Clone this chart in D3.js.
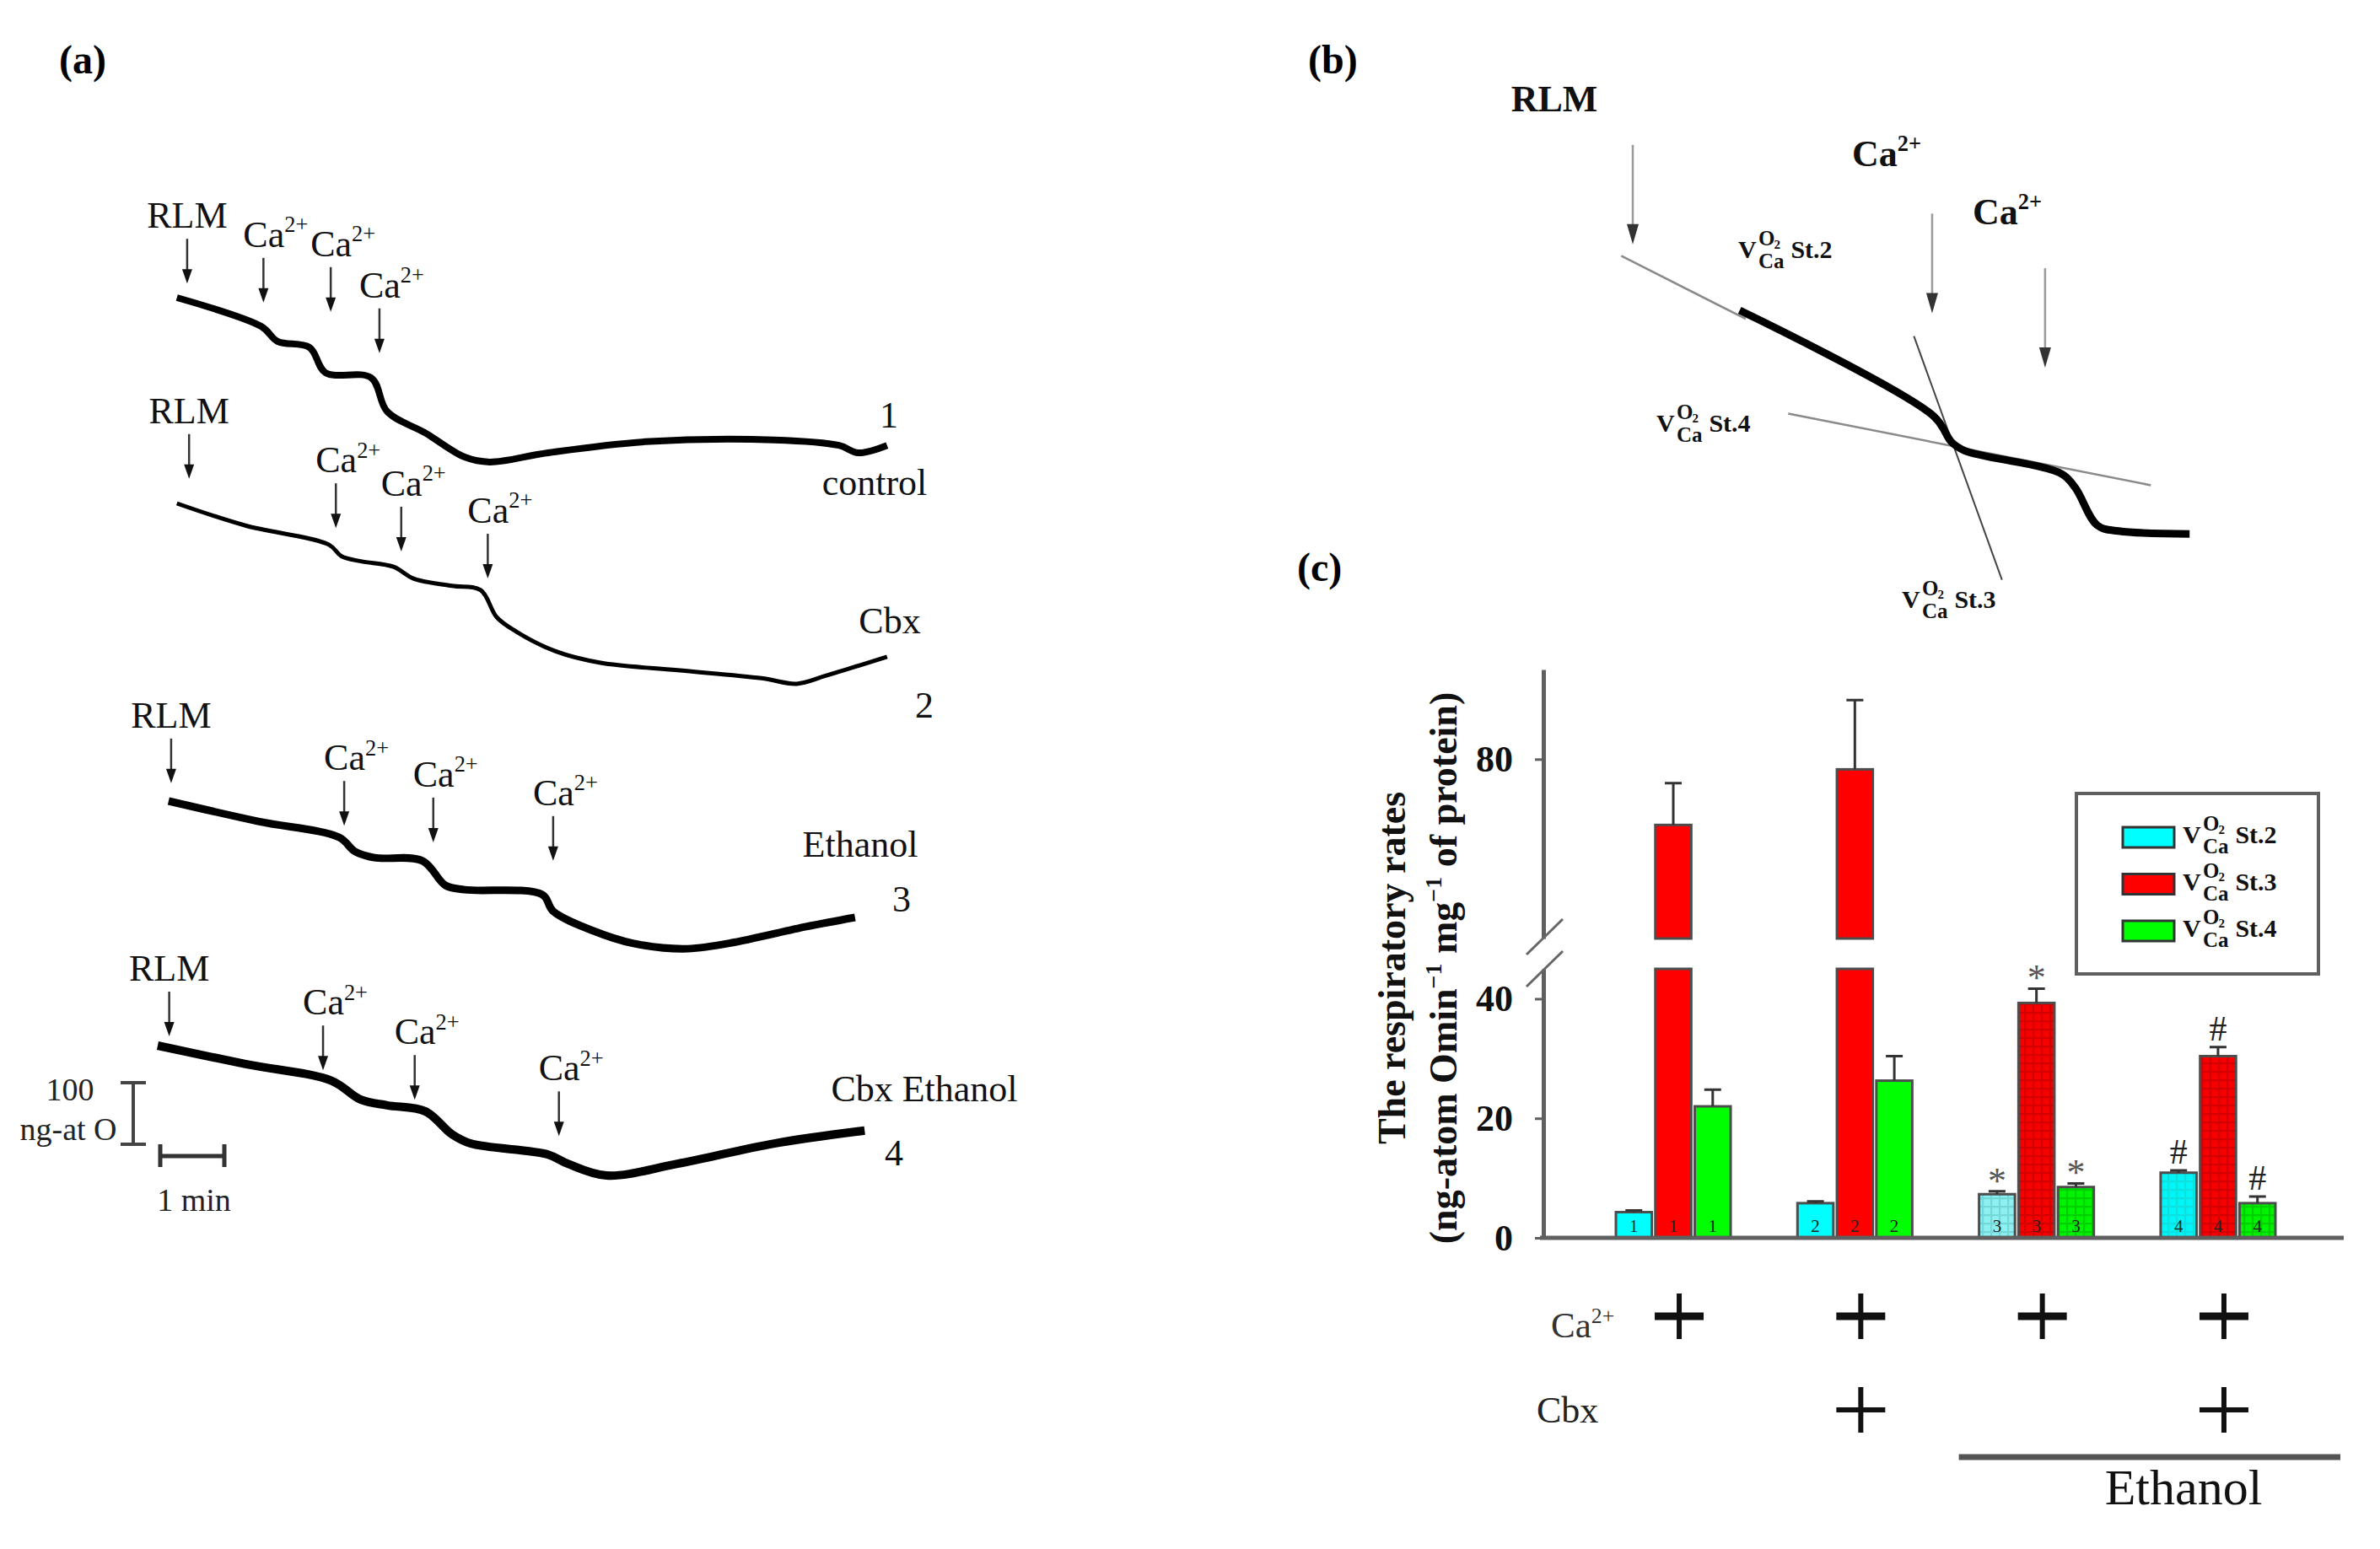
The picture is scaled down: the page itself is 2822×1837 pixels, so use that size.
<!DOCTYPE html>
<html>
<head>
<meta charset="utf-8">
<script src="https://cdn.jsdelivr.net/npm/d3@7.9.0/dist/d3.min.js"></script>
<style>
  body { margin: 0; background: #fff; }
  svg { display: block; }
  text { font-family: "Liberation Serif", "Times New Roman", serif; }
</style>
</head>
<body>
<div id="chart"></div>
<script>
// ---------- panel (a): oxygen traces ----------
// [time (min), O2 change (ng-at O) from the start of the trace]
const trace1 = [[0.26, 0], [1.58, -47], [1.83, -71], [2.33, -81], [2.58, -122], [3.29, -130], [3.54, -185],
  [4.14, -220], [4.75, -259], [5.14, -267], [6.05, -252], [7.57, -234], [9.58, -231], [10.59, -240],
  [10.89, -252], [11.34, -240]];
const trace2 = [[0.26, 0], [1.33, -36], [2.63, -67], [2.83, -86], [3.13, -94], [3.64, -103], [3.95, -122],
  [4.55, -134], [5.0, -141], [5.25, -185], [5.55, -208], [6.16, -240], [6.87, -259], [8.07, -271],
  [9.38, -284], [9.93, -293], [10.38, -280], [11.34, -249]];
const trace3 = [[0.13, 0], [1.53, -33], [2.79, -59], [3.04, -82], [3.34, -92], [4.09, -97], [4.45, -137],
  [4.75, -144], [5.96, -152], [6.13, -179], [6.76, -211], [7.37, -231], [8.17, -240], [8.88, -231],
  [10.08, -204], [10.84, -189]];
const trace4 = [[-0.04, 0], [1.33, -30], [2.67, -57], [3.13, -88], [3.54, -97], [4.14, -107], [4.55, -144],
  [4.84, -159], [6.05, -177], [6.36, -192], [6.96, -211], [8.07, -192], [9.58, -159], [10.99, -138]];

// additions: [what, time (min), O2 at the arrow tip]
const adds1 = [['RLM', 0.42, 23], ['Ca', 1.61, -8], ['Ca', 2.66, -23], ['Ca', 3.42, -90]];
const adds2 = [['RLM', 0.45, 40], ['Ca', 2.74, -40], ['Ca', 3.76, -78], ['Ca', 5.11, -122]];
const adds3 = [['RLM', 0.17, 29], ['Ca', 2.87, -40], ['Ca', 4.26, -67], ['Ca', 6.13, -97]];
const adds4 = [['RLM', 0.14, 15], ['Ca', 2.54, -40], ['Ca', 3.97, -88], ['Ca', 6.22, -147]];

const traceNumbers = ['1', '2', '3', '4'];
const traceConditions = ['control', 'Cbx', 'Ethanol', 'Cbx Ethanol'];

const traceB = [[2.26, -20], [5.46, -57], [5.75, -66], [5.97, -69], [7.56, -77], [7.79, -82], [8.15, -95],
  [8.5, -97], [9.67, -98]];
const tangentSt2 = [[0.31, -1], [2.36, -23]];
const tangentSt3 = [[5.13, -29], [6.58, -114]];
const tangentSt4 = [[3.06, -56], [9.03, -81]];
const addsB = [['RLM', 0.5, 3], ['Ca', 5.43, -21], ['Ca', 7.29, -40]];

// ---------- panel (c): respiratory rates ----------
const groups = ['1', '2', '3', '4'];
const stages = ['2', '3', '4'];
const st2Rate = [4.3, 5.8, 7.3, 10.9];
const st2Err = [0.3, 0.3, 0.5, 0.4];
const st3Rate = [69, 78.3, 39.3, 30.4];
const st3Err = [7, 11.6, 2.4, 1.5];
const st4Rate = [22, 26.3, 8.5, 5.8];
const st4Err = [2.8, 4.1, 0.6, 1.1];
const signif = ['', '', '*', '#'];
const lowTicks = [0, 20, 40];
const highTicks = [80];
const caAdded = [true, true, true, true];
const cbxAdded = [false, true, false, true];
const ethanolAdded = [false, false, true, true];

// ---------- drawing ----------
const width = 2822;
const height = 1837;

const svg = d3.select('#chart').append('svg')
  .attr('width', width)
  .attr('height', height)
  .attr('viewBox', [0, 0, width, height]);
svg.append('rect').attr('width', width).attr('height', height).attr('fill', '#fff');

const defs = svg.append('defs');

function panelLabel(x, y, t) {
  svg.append('text').attr('x', x).attr('y', y)
    .attr('font-size', 48).attr('font-weight', 'bold').text(t);
}
panelLabel(70, 87, '(a)');
panelLabel(1551, 87, '(b)');
panelLabel(1538, 689, '(c)');

function arrow(g, x, yTip, len, o) {
  g.append('line')
    .attr('x1', x).attr('x2', x)
    .attr('y1', yTip - len).attr('y2', yTip - o.head + 2)
    .attr('stroke', o.stroke).attr('stroke-width', o.sw);
  g.append('path')
    .attr('d', `M${x - o.hw / 2},${yTip - o.head}L${x + o.hw / 2},${yTip - o.head}L${x},${yTip}Z`)
    .attr('fill', o.fill);
}

// Ca2+ label with superscript
function caLabel(g, x, y, size, bold) {
  const t = g.append('text').attr('x', x).attr('y', y).attr('font-size', size)
    .attr('font-weight', bold ? 'bold' : 'normal').attr('fill', '#111');
  t.append('tspan').text('Ca');
  t.append('tspan').attr('font-size', size * 0.6).attr('dy', -size * 0.4).text('2+');
  return t;
}

// V with stacked O2 / Ca and stage
function vLabel(g, x, y, stage) {
  const s = 30;
  const gg = g.append('g').attr('fill', '#111').attr('font-size', s).attr('font-weight', 'bold');
  gg.append('text').attr('x', x).attr('y', y).text('V');
  gg.append('text').attr('x', x + 0.8 * s).attr('y', y - 0.5 * s).attr('font-size', 25).text('O');
  gg.append('text').attr('x', x + 1.42 * s).attr('y', y - 0.36 * s).attr('font-size', 15).text('2');
  gg.append('text').attr('x', x + 0.8 * s).attr('y', y + 0.4 * s).attr('font-size', 25).text('Ca');
  gg.append('text').attr('x', x + 2.08 * s).attr('y', y).text('St.' + stage);
}

// ----- panel (a)
const gA = svg.append('g');
const xA = d3.scaleLinear().domain([0, 1]).range([190, 266]);   // 1 min
const traces = [trace1, trace2, trace3, trace4];
const adds = [adds1, adds2, adds3, adds4];
const traceLayout = [
  { top: 353, sw: 8, num: [1054, 507], cond: [1037, 587] },
  { top: 597, sw: 5, num: [1096, 851], cond: [1055, 751] },
  { top: 950, sw: 9, num: [1069, 1081], cond: [1020, 1016] },
  { top: 1240, sw: 10, num: [1060, 1382], cond: [1096, 1306] }
];
const arrowA = { stroke: '#333', sw: 2.5, fill: '#111', hw: 12, head: 17 };

traces.forEach((tr, i) => {
  const L = traceLayout[i];
  const yA = d3.scaleLinear().domain([0, -100]).range([L.top, L.top + 73]);   // 100 ng-at O
  const line = d3.line().x(d => xA(d[0])).y(d => yA(d[1])).curve(d3.curveCatmullRom.alpha(0.5));
  gA.append('path').datum(tr)
    .attr('d', line)
    .attr('fill', 'none')
    .attr('stroke', '#000')
    .attr('stroke-width', L.sw)
    .attr('stroke-linejoin', 'round');

  adds[i].forEach(([what, t, o]) => {
    const x = xA(t), yTip = yA(o);
    arrow(gA, x, yTip, 53, arrowA);
    const yText = yTip - 53 - 13;
    if (what === 'RLM') {
      gA.append('text').attr('x', x).attr('y', yText).attr('text-anchor', 'middle')
        .attr('font-size', 44).attr('fill', '#111').text('RLM');
    } else {
      caLabel(gA, x - 24, yText, 44, false);
    }
  });

  gA.append('text').attr('x', L.num[0]).attr('y', L.num[1]).attr('text-anchor', 'middle')
    .attr('font-size', 44).attr('fill', '#111').text(traceNumbers[i]);
  gA.append('text').attr('x', L.cond[0]).attr('y', L.cond[1]).attr('text-anchor', 'middle')
    .attr('font-size', 44).attr('fill', '#111').text(traceConditions[i]);
});

// scale bars
const yBar = d3.scaleLinear().domain([0, 100]).range([1284, 1357]);
gA.append('path')
  .attr('d', `M143,${yBar(0)}H173M158,${yBar(0)}V${yBar(100)}M143,${yBar(100)}H173`)
  .attr('fill', 'none').attr('stroke', '#444').attr('stroke-width', 4);
gA.append('path')
  .attr('d', `M${xA(0)},1357V1384M${xA(0)},1371H${xA(1)}M${xA(1)},1357V1384`)
  .attr('fill', 'none').attr('stroke', '#333').attr('stroke-width', 5);
gA.append('text').attr('x', 83).attr('y', 1305).attr('text-anchor', 'middle')
  .attr('font-size', 38).attr('fill', '#222').text('100');
gA.append('text').attr('x', 81).attr('y', 1352).attr('text-anchor', 'middle')
  .attr('font-size', 38).attr('fill', '#222').text('ng-at O');
gA.append('text').attr('x', 230).attr('y', 1436).attr('text-anchor', 'middle')
  .attr('font-size', 38).attr('fill', '#222').text('1 min');

// ----- panel (b)
const gB = svg.append('g');
const xB = d3.scaleLinear().domain([0, 1]).range([1900, 1972]);
const yB = d3.scaleLinear().domain([0, -100]).range([300, 640]);
const lineB = d3.line().x(d => xB(d[0])).y(d => yB(d[1]));

gB.append('path').datum(tangentSt2).attr('d', lineB)
  .attr('stroke', '#8a8a8a').attr('stroke-width', 2.5).attr('fill', 'none');
gB.append('path').datum(tangentSt4).attr('d', lineB)
  .attr('stroke', '#8a8a8a').attr('stroke-width', 2.5).attr('fill', 'none');
gB.append('path').datum(tangentSt3).attr('d', lineB)
  .attr('stroke', '#444').attr('stroke-width', 2).attr('fill', 'none');
gB.append('path').datum(traceB).attr('d', lineB.curve(d3.curveCatmullRom.alpha(0.5)))
  .attr('stroke', '#000').attr('stroke-width', 9).attr('fill', 'none')
  .attr('stroke-linejoin', 'round');

const arrowB = { stroke: '#9a9a9a', sw: 2.5, fill: '#333', hw: 14, head: 24 };
addsB.forEach(([what, t, o]) => arrow(gB, xB(t), yB(o), 118, arrowB));

gB.append('text').attr('x', 1843).attr('y', 132).attr('text-anchor', 'middle')
  .attr('font-size', 44).attr('font-weight', 'bold').attr('fill', '#111').text('RLM');
caLabel(gB, 2196, 197, 44, true);
caLabel(gB, 2339, 266, 44, true);
vLabel(gB, 2061, 306, '2');
vLabel(gB, 1964, 512, '4');
vLabel(gB, 2255, 721, '3');

// ----- panel (c)
const gC = svg.append('g');
const rates = [st2Rate, st3Rate, st4Rate];
const errs = [st2Err, st3Err, st4Err];
const colors = ['#00ffff', '#ff0000', '#00ff00'];

function grid(id, base, lineColor) {
  const p = defs.append('pattern').attr('id', id)
    .attr('width', 10).attr('height', 10).attr('patternUnits', 'userSpaceOnUse');
  p.append('rect').attr('width', 10).attr('height', 10).attr('fill', base);
  p.append('path').attr('d', 'M0,1H10M1,0V10')
    .attr('stroke', lineColor).attr('stroke-width', 2.5).attr('opacity', 0.55);
}
grid('cyan3', '#8ef0f0', '#5cc4c4');
grid('cyan4', '#00f6f6', '#19cccc');
grid('red34', '#f60000', '#b80000');
grid('green34', '#00f400', '#00b000');

function barFill(gi, si) {
  if (gi < 2) return colors[si];
  if (si === 0) return gi === 2 ? 'url(#cyan3)' : 'url(#cyan4)';
  return si === 1 ? 'url(#red34)' : 'url(#green34)';
}

const x0 = d3.scaleBand().domain(groups).range([1916, 2698]).paddingInner(0.368);
const x1 = d3.scaleBand().domain(stages).range([0, x0.bandwidth()]).paddingInner(0.09);
const yLow = d3.scaleLinear().domain([0, 45]).range([1468, 1149]);
const yHigh = d3.scaleLinear().domain([50, 95]).range([1113, 794]);

const bars = groups.flatMap((g, gi) => stages.map((s, si) => ({
  g, s, gi, si, v: rates[si][gi], e: errs[si][gi]
})));

const barG = gC.append('g');
bars.forEach(d => {
  const x = x0(d.g) + x1(d.s), w = x1.bandwidth();
  const parts = d.v > 45
    ? [[yLow(45), yLow(0)], [yHigh(d.v), yHigh(50)]]
    : [[yLow(d.v), yLow(0)]];
  parts.forEach(([top, bottom]) => {
    barG.append('rect')
      .attr('x', x).attr('y', top).attr('width', w).attr('height', bottom - top)
      .attr('fill', barFill(d.gi, d.si))
      .attr('stroke', '#4d4d4d').attr('stroke-width', 3);
  });
  // error bar
  const ys = d.v > 45 ? yHigh : yLow;
  const cx = x + w / 2;
  const yTop = ys(d.v + d.e);
  barG.append('path')
    .attr('d', `M${cx},${ys(d.v)}V${yTop}M${cx - 10},${yTop}H${cx + 10}`)
    .attr('stroke', '#333').attr('stroke-width', 3).attr('fill', 'none');
  // bar number
  barG.append('text').attr('x', cx).attr('y', 1461).attr('text-anchor', 'middle')
    .attr('font-size', 21).attr('fill', '#222').text(d.g);
  // significance mark
  const m = signif[d.gi];
  if (m) {
    barG.append('text').attr('x', cx).attr('y', m === '*' ? yTop + 2 : yTop - 8)
      .attr('text-anchor', 'middle').attr('font-size', m === '*' ? 44 : 42)
      .attr('fill', m === '*' ? '#555' : '#222').text(m);
  }
});

// axes
function styleAxis(sel) {
  sel.select('.domain').attr('stroke', '#5f5f5f').attr('stroke-width', 5);
  sel.selectAll('.tick line').attr('stroke', '#5f5f5f').attr('stroke-width', 3);
  sel.selectAll('.tick text')
    .attr('font-family', '"Liberation Serif", "Times New Roman", serif')
    .attr('font-size', 44).attr('font-weight', 'bold').attr('fill', '#111');
}
gC.append('g').attr('transform', 'translate(1830,0)')
  .call(d3.axisLeft(yLow).tickValues(lowTicks).tickSize(10).tickSizeOuter(0).tickPadding(26))
  .call(styleAxis);
gC.append('g').attr('transform', 'translate(1830,0)')
  .call(d3.axisLeft(yHigh).tickValues(highTicks).tickSize(10).tickSizeOuter(0).tickPadding(26))
  .call(styleAxis);
gC.append('line').attr('x1', 1826).attr('x2', 2779).attr('y1', yLow(0)).attr('y2', yLow(0))
  .attr('stroke', '#5f5f5f').attr('stroke-width', 5);
// axis break marks
[yHigh(50) - 2, yLow(45)].forEach(y => {
  gC.append('line').attr('x1', 1810).attr('x2', 1853).attr('y1', y + 21).attr('y2', y - 21)
    .attr('stroke', '#666').attr('stroke-width', 3);
});

// y title
gC.append('text').attr('transform', 'translate(1666,1148) rotate(-90)')
  .attr('text-anchor', 'middle').attr('font-size', 46).attr('font-weight', 'bold')
  .attr('fill', '#111').text('The respiratory rates');
const t2 = gC.append('text').attr('transform', 'translate(1727,1148) rotate(-90)')
  .attr('text-anchor', 'middle').attr('font-size', 46).attr('font-weight', 'bold').attr('fill', '#111');
t2.append('tspan').text('(ng-atom Omin');
t2.append('tspan').attr('font-size', 28).attr('dy', -18).text('\u22121');
t2.append('tspan').attr('dy', 18).text(' mg');
t2.append('tspan').attr('font-size', 28).attr('dy', -18).text('\u22121');
t2.append('tspan').attr('dy', 18).text(' of protein)');

// legend
const leg = gC.append('g');
leg.append('rect').attr('x', 2462).attr('y', 941).attr('width', 287).attr('height', 214)
  .attr('fill', '#fff').attr('stroke', '#5f5f5f').attr('stroke-width', 4);
stages.forEach((s, si) => {
  const cy = 993 + si * 55.5;
  leg.append('rect').attr('x', 2517).attr('y', cy - 12).attr('width', 61).attr('height', 24)
    .attr('fill', colors[si]).attr('stroke', '#333').attr('stroke-width', 3);
  vLabel(leg, 2588, cy + 7, s);
});

// treatment table
const tbl = gC.append('g');
caLabel(tbl, 1839, 1586, 43, false).attr('fill', '#333');
tbl.append('text').attr('x', 1822).attr('y', 1687).attr('font-size', 44).attr('fill', '#222').text('Cbx');
function plus(cx, cy, hThick) {
  tbl.append('path')
    .attr('d', `M${cx - 29},${cy}H${cx + 29}`)
    .attr('stroke', '#111').attr('stroke-width', hThick);
  tbl.append('path')
    .attr('d', `M${cx},${cy - 27}V${cy + 27}`)
    .attr('stroke', '#111').attr('stroke-width', 6);
}
groups.forEach((g, gi) => {
  const cx = x0(g) + x0.bandwidth() / 2 + 7;
  if (caAdded[gi]) plus(cx, 1561, 9);
  if (cbxAdded[gi]) plus(cx, 1672, 6);
});
const firstEth = groups[ethanolAdded.indexOf(true)];
tbl.append('line').attr('x1', x0(firstEth) - 24).attr('x2', 2775).attr('y1', 1728).attr('y2', 1728)
  .attr('stroke', '#555').attr('stroke-width', 7);
tbl.append('text').attr('x', 2589).attr('y', 1784).attr('text-anchor', 'middle')
  .attr('font-size', 60).attr('fill', '#111').text('Ethanol');
</script>
</body>
</html>
